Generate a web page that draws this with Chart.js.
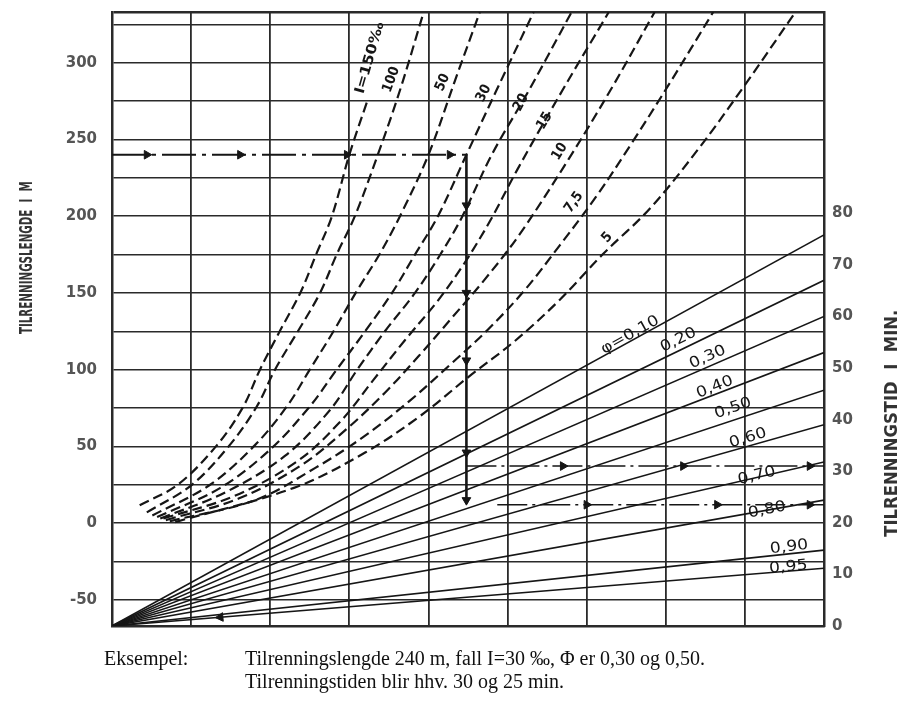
<!DOCTYPE html>
<html>
<head>
<meta charset="utf-8">
<script src="https://cdn.jsdelivr.net/npm/chart.js@4.4.1/dist/chart.umd.min.js"></script>
<style>
    body { margin: 0; background: #fff; }
    #wrap { position: relative; width: 905px; height: 704px; }
    .note { position: absolute; font-family: "Liberation Serif", "DejaVu Serif", serif; font-size: 20px; color: #111; white-space: nowrap; }
</style>
</head>
<body>
<div id="wrap">
    <canvas id="nomogram"></canvas>
    <div class="note" style="left:104px; top:647px;">Eksempel:</div>
    <div class="note" style="left:245px; top:647px;">Tilrenningslengde 240 m, fall I=30 ‰, Φ er 0,30 og 0,50.</div>
    <div class="note" style="left:245px; top:670px;">Tilrenningstiden blir hhv. 30 og 25 min.</div>
</div>
<script>
// Axes
const columnMax = 9;
const lengthMin = -67, lengthMax = 333;
const lengthTicks = [-50, -25, 0, 25, 50, 75, 100, 125, 150, 175, 200, 225, 250, 275, 300, 325];
const timeMax = 119;
const timeTicks = [0, 10, 20, 30, 40, 50, 60, 70, 80];

// Dashed curves, fall I (promille): [column, tilrenningslengde m]
const curveI150 = [[0.35, 11.7], [0.83, 25], [1.33, 51], [1.66, 76], [1.87, 100], [2.12, 125], [2.38, 150], [2.58, 175], [2.78, 200], [3.0, 240], [3.24, 277]];
const curveI100 = [[0.44, 7], [1.01, 25], [1.49, 51], [1.83, 76], [2.06, 100], [2.35, 125], [2.63, 150], [2.84, 175], [3.07, 200], [3.36, 240], [3.64, 282], [3.94, 333]];
const curveI50 = [[0.51, 5], [1.24, 25], [1.81, 51], [2.21, 76], [2.5, 100], [2.8, 125], [3.08, 150], [3.38, 175], [3.64, 200], [4.0, 240], [4.34, 289], [4.65, 333]];
const curveI30 = [[0.57, 4], [1.37, 23], [2.0, 48], [2.5, 76], [2.84, 100], [3.2, 125], [3.54, 150], [3.83, 175], [4.12, 200], [4.48, 240], [4.86, 282], [5.33, 333]];
const curveI20 = [[0.61, 3], [1.43, 20], [2.19, 44], [2.76, 74], [3.1, 100], [3.45, 125], [3.83, 150], [4.15, 175], [4.42, 199], [4.8, 240], [5.27, 282], [5.81, 333]];
const curveI15 = [[0.65, 3], [1.56, 18], [2.36, 41], [2.9, 67], [3.3, 93], [3.7, 119], [4.12, 145], [4.45, 169], [4.78, 197], [5.12, 230], [5.66, 279], [6.28, 333]];
const curveI10 = [[0.68, 2], [1.6, 16], [2.4, 38], [2.98, 62], [3.45, 85], [3.88, 109], [4.3, 134], [4.7, 158], [5.15, 188], [5.77, 237], [6.3, 282], [6.86, 333]];
const curveI7_5 = [[0.73, 1.3], [1.81, 15], [2.57, 36], [3.2, 57], [3.77, 80], [4.27, 103], [4.75, 126], [5.22, 152], [5.66, 181], [6.11, 212], [6.55, 246], [7.03, 285], [7.6, 333]];
const curveI5 = [[0.8, 0.7], [2.3, 23], [3.2, 46], [3.9, 70], [4.5, 95], [5.1, 119], [5.65, 145], [6.2, 175], [6.8, 205], [7.43, 245], [7.98, 284], [8.64, 333]];
const slopeCurves = [curveI150, curveI100, curveI50, curveI30, curveI20, curveI15, curveI10, curveI7_5, curveI5];
const slopeLabels = ["I=150‰", "100", "50", "30", "20", "15", "10", "7,5", "5"];

// Solid lines, avrenningsfaktor phi: tilrenningstid (min) at the right edge
const phiLabels = ["φ=0,10", "0,20", "0,30", "0,40", "0,50", "0,60", "0,70", "0,80", "0,90", "0,95"];
const phiTimeAtRight = [75.8, 67, 60, 53, 45.7, 39, 31.8, 24.4, 14.7, 11.2];

// Example: 240 m, I = 30, phi 0,30 and 0,50
const exampleLength = 240;
const exampleColumn = 4.48;
const exampleBottom = 13;
const exampleTimes = [31, 23.5];
const exampleTimeStart = [4.48, 4.87];
const arrowsAlongLength = [0.44, 1.62, 2.97, 4.27];
const arrowsDown = [207, 150, 106, 46, 15];
const arrowsAlongTime = [[5.7, 7.22, 8.82], [6.0, 7.65, 8.82]];
const arrowOnPhi95 = 1.37;

// label placement (column, value, angle)
const slopeLabelAt = [[3.26, 303, -74], [3.53, 289, -70], [4.18, 287, -66], [4.70, 280, -63], [5.17, 274, -61], [5.47, 262, -59], [5.66, 242, -58], [5.84, 209, -55], [6.26, 186, -48]];
const phiLabelAt = [[6.55, 56.4, -29], [7.16, 55.4, -26], [7.53, 52.1, -24], [7.62, 46.3, -22], [7.85, 42.2, -19], [8.04, 36.4, -17], [8.15, 29.1, -14], [8.28, 22.5, -11], [8.56, 15.3, -7], [8.55, 11.4, -5]];

const ink = "#161616";
const gridInk = "#2a2a2a";

const texts = [];
slopeLabels.forEach((t, i) => texts.push({
    text: t, x: slopeLabelAt[i][0], y: slopeLabelAt[i][1], angle: slopeLabelAt[i][2], axis: "y",
    font: 'bold 14px "DejaVu Sans Condensed", "DejaVu Sans", sans-serif', width: i === 0 ? 74 : null
}));
phiLabels.forEach((t, i) => texts.push({
    text: t, x: phiLabelAt[i][0], y: phiLabelAt[i][1], angle: phiLabelAt[i][2], axis: "y2",
    font: '15px "DejaVu Sans", sans-serif', stretch: 1.15
}));

const nomoText = {
    id: "nomoText",
    afterDatasetsDraw(chart) {
        const { ctx, scales, chartArea } = chart;
        ctx.save();
        ctx.fillStyle = ink;
        ctx.textAlign = "center";
        ctx.textBaseline = "middle";

        texts.forEach(t => {
            ctx.save();
            ctx.translate(scales.x.getPixelForValue(t.x), scales[t.axis].getPixelForValue(t.y));
            ctx.rotate(t.angle * Math.PI / 180);
            ctx.font = t.font;
            if (t.width) ctx.scale(t.width / ctx.measureText(t.text).width, 1);
            else if (t.stretch) ctx.scale(t.stretch, 1);
            ctx.fillText(t.text, 0, 0);
            ctx.restore();
        });

        // axis titles
        const titles = [
            { text: "TILRENNINGSLENGDE  I  M", x: chartArea.left - 84, y: scales.y.getPixelForValue(173), len: 153 },
            { text: "TILRENNINGSTID  I  MIN.", x: chartArea.right + 69, y: scales.y2.getPixelForValue(39.3), len: 227 }
        ];
        ctx.fillStyle = "#333";
        titles.forEach(t => {
            ctx.save();
            ctx.translate(t.x, t.y);
            ctx.rotate(-Math.PI / 2);
            ctx.font = '600 17px "DejaVu Sans Condensed", "DejaVu Sans", sans-serif';
            ctx.scale(t.len / ctx.measureText(t.text).width, 1);
            ctx.fillText(t.text, 0, 0);
            ctx.restore();
        });
        ctx.restore();
    }
};

const toPoints = arr => arr.map(([x, y]) => ({ x, y }));

const datasets = [];

slopeCurves.forEach(c => datasets.push({
    data: toPoints(c), yAxisID: "y", showLine: true, borderColor: ink, borderWidth: 2.2,
    borderDash: [10, 5], pointRadius: 0, tension: 0.35
}));

phiTimeAtRight.forEach(t => datasets.push({
    data: [{ x: 0, y: 0 }, { x: columnMax, y: t }], yAxisID: "y2", showLine: true,
    borderColor: ink, borderWidth: 1.6, pointRadius: 0
}));

// example path
datasets.push({
    data: [{ x: 0, y: exampleLength }, { x: exampleColumn, y: exampleLength }], yAxisID: "y", showLine: true,
    borderColor: ink, borderWidth: 2, borderDash: [34, 6, 4, 6], pointRadius: 0
});
datasets.push({
    data: [{ x: exampleColumn, y: exampleLength }, { x: exampleColumn, y: exampleBottom }], yAxisID: "y", showLine: true,
    borderColor: ink, borderWidth: 2.6, pointRadius: 0
});
exampleTimes.forEach((t, i) => datasets.push({
    data: [{ x: exampleTimeStart[i], y: t }, { x: columnMax, y: t }], yAxisID: "y2", showLine: true,
    borderColor: ink, borderWidth: 1.6, borderDash: [30, 5, 3, 5], pointRadius: 0
}));

const arrowHead = (points, axis, rotation) => ({
    data: points, yAxisID: axis, showLine: false, pointStyle: "triangle", pointRadius: 5,
    pointRotation: rotation, backgroundColor: ink, borderColor: ink, borderWidth: 1
});
datasets.push(arrowHead(arrowsAlongLength.map(x => ({ x, y: exampleLength })), "y", 90));
datasets.push(arrowHead(arrowsDown.map(y => ({ x: exampleColumn, y })), "y", 180));
exampleTimes.forEach((t, i) => datasets.push(arrowHead(arrowsAlongTime[i].map(x => ({ x, y: t })), "y2", 90)));
datasets.push(arrowHead([{ x: arrowOnPhi95, y: phiTimeAtRight[9] * arrowOnPhi95 / columnMax }], "y2", 265));

const tickFont = { family: '"DejaVu Sans", sans-serif', size: 15, weight: "bold" };

new Chart(document.getElementById("nomogram"), {
    type: "scatter",
    data: { datasets },
    options: {
        responsive: true,
        maintainAspectRatio: false,
        animation: false,
        layout: { padding: { left: 0, right: 0, top: 12, bottom: 78 } },
        plugins: { legend: { display: false }, tooltip: { enabled: false } },
        events: [],
        scales: {
            x: {
                type: "linear", min: 0, max: columnMax,
                ticks: { display: false, stepSize: 1 },
                grid: { color: gridInk, lineWidth: 1.8, drawTicks: false },
                border: { display: true, color: gridInk, width: 2.5 },
                afterFit: s => { s.height = 0; s.paddingLeft = 0; s.paddingRight = 0; }
            },
            y: {
                type: "linear", position: "left", min: lengthMin, max: lengthMax,
                afterBuildTicks: s => { s.ticks = [lengthMin, ...lengthTicks, lengthMax].map(v => ({ value: v })); },
                ticks: {
                    autoSkip: false, padding: 15, color: "#555", font: tickFont,
                    callback: v => (v % 50 === 0 && v <= 300 && v >= -50) ? v : ""
                },
                grid: { color: gridInk, lineWidth: c => (c.tick && c.tick.value === lengthMax) ? 2.5 : 1.5, drawTicks: false },
                border: { display: true, color: gridInk, width: 2.5 },
                afterFit: s => { s.width = 112; s.paddingTop = 0; s.paddingBottom = 0; }
            },
            y2: {
                type: "linear", position: "right", min: 0, max: timeMax,
                afterBuildTicks: s => { s.ticks = timeTicks.map(v => ({ value: v })); },
                ticks: { autoSkip: false, padding: 8, color: "#555", font: tickFont },
                grid: { display: false, drawTicks: false },
                border: { display: true, color: gridInk, width: 2.5 },
                afterFit: s => { s.width = 81; s.paddingTop = 0; s.paddingBottom = 0; }
            }
        }
    },
    plugins: [nomoText]
});
</script>
</body>
</html>
